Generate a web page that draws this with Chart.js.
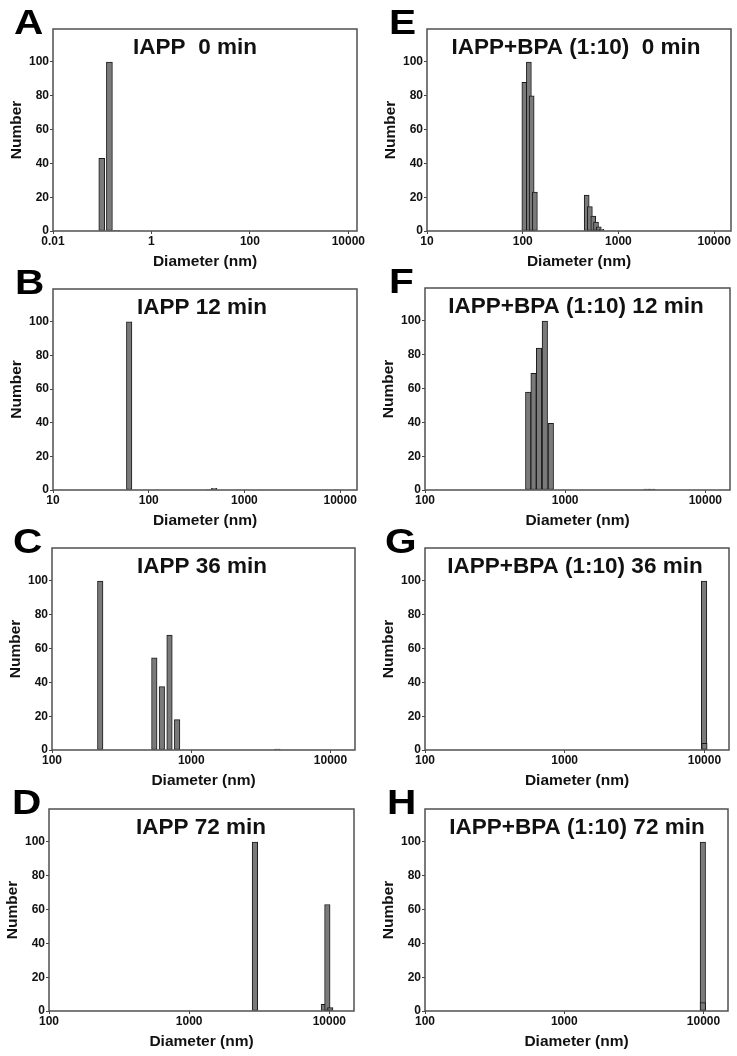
<!DOCTYPE html>
<html>
<head>
<meta charset="utf-8">
<script src="https://cdn.jsdelivr.net/npm/chart.js@4.4.1/dist/chart.umd.min.js"></script>
<style>
  html, body { margin: 0; padding: 0; background: #fff; }
  #page { position: relative; width: 737px; height: 1056px; overflow: hidden; }
  #page canvas { position: absolute; }
  .letter { position: absolute; font: bold 35px "Liberation Sans", Arial, sans-serif; line-height: 35px; color: #000; transform: scaleX(1.16); transform-origin: left top; }
</style>
</head>
<body>
<div id="page"></div>
<script>
// DLS size distributions, number (%) vs diameter (nm)
const titles = [
    'IAPP  0 min', 'IAPP 12 min', 'IAPP 36 min', 'IAPP 72 min',
    'IAPP+BPA (1:10)  0 min', 'IAPP+BPA (1:10) 12 min', 'IAPP+BPA (1:10) 36 min', 'IAPP+BPA (1:10) 72 min'
];

const diamA = [0.098, 0.14, 0.196];
const numA = [43, 100, 0.4];
const diamB = [62.5, 430, 483];
const numB = [100, 0.3, 1];
const diamC = [222, 543, 615, 698, 792, 4160];
const numC = [100, 54.5, 37.5, 68, 18, 0.6];
const diamD = [2945, 9140, 9680, 10150];
const numD = [100, 4, 63, 2];
const diamE = [104, 116, 124, 134, 466, 503, 546, 583, 623, 665];
const numE = [88, 100, 80, 23, 21.3, 14.4, 8.9, 5.3, 2.5, 1];
const diamF = [545, 595, 651, 716, 790, 3810, 4160];
const numF = [58, 69, 84, 100, 39.5, 0.5, 0.5];
const diamG = [9950, 10000];
const numG = [100, 4];
const diamH = [9890, 9900];
const numH = [100, 5];

const xTicksWide = [0.01, 1, 100, 10000];
const xTicksMid = [10, 100, 1000, 10000];
const xTicksNarrow = [100, 1000, 10000];
const yTicks = [0, 20, 40, 60, 80, 100];

const X_MAX = 15000;
const Y_MAX = 119.5;

// layout (page pixels): plot box [left, top, right, bottom], title centre x, letter position
const Y_AXIS_W = 47;
const X_AXIS_H = 42;
const PAD_TOP = 4;
const PAD_RIGHT = 12;
const TITLE_DY = 25;

const panels = [
    { letter: 'A', title: titles[0], xs: diamA, ys: numA, xTicks: xTicksWide, xMin: 0.01, box: [53, 29, 357, 231], titleX: 195, barW: 6, lx: 14, ly: 4 },
    { letter: 'B', title: titles[1], xs: diamB, ys: numB, xTicks: xTicksMid, xMin: 10, box: [53, 289, 357, 490], titleX: 202, barW: 5.5, lx: 15, ly: 264 },
    { letter: 'C', title: titles[2], xs: diamC, ys: numC, xTicks: xTicksNarrow, xMin: 100, box: [52, 548, 355, 750], titleX: 202, barW: 5.5, lx: 13, ly: 523 },
    { letter: 'D', title: titles[3], xs: diamD, ys: numD, xTicks: xTicksNarrow, xMin: 100, box: [49, 809, 354, 1011], titleX: 201, barW: 5.5, lx: 12, ly: 784 },
    { letter: 'E', title: titles[4], xs: diamE, ys: numE, xTicks: xTicksMid, xMin: 10, box: [427, 29, 731, 231], titleX: 576, barW: 5, lx: 389, ly: 4 },
    { letter: 'F', title: titles[5], xs: diamF, ys: numF, xTicks: xTicksNarrow, xMin: 100, box: [425, 288, 730, 490], titleX: 576, barW: 5.5, lx: 389, ly: 263 },
    { letter: 'G', title: titles[6], xs: diamG, ys: numG, xTicks: xTicksNarrow, xMin: 100, box: [425, 548, 729, 750], titleX: 575, barW: 5.5, lx: 385, ly: 523 },
    { letter: 'H', title: titles[7], xs: diamH, ys: numH, xTicks: xTicksNarrow, xMin: 100, box: [425, 809, 728, 1011], titleX: 577, barW: 5.5, lx: 387, ly: 784 }
];

Chart.defaults.font.family = '"Liberation Sans", Arial, sans-serif';
Chart.defaults.color = '#111';

const page = document.getElementById('page');

// Frame around plot area plus the in-plot title
function framePlugin(p) {
    return {
        id: 'frame' + p.letter,
        afterDatasetsDraw(chart) {
            const ctx = chart.ctx;
            const a = chart.chartArea;
            ctx.save();
            ctx.strokeStyle = '#505050';
            ctx.lineWidth = 1.5;
            ctx.strokeRect(a.left, a.top, a.right - a.left, a.bottom - a.top);
            ctx.fillStyle = '#111';
            ctx.font = 'bold 22.5px "Liberation Sans", Arial, sans-serif';
            ctx.textAlign = 'center';
            ctx.textBaseline = 'alphabetic';
            ctx.fillText(p.title, p.titleX - (p.box[0] - Y_AXIS_W), PAD_TOP + TITLE_DY);
            ctx.restore();
        }
    };
}

function makePanel(p) {
    const [l, t, r, b] = p.box;
    const cw = Y_AXIS_W + (r - l) + PAD_RIGHT;
    const ch = PAD_TOP + (b - t) + X_AXIS_H;
    const canvas = document.createElement('canvas');
    canvas.width = cw;
    canvas.height = ch;
    canvas.style.width = cw + 'px';
    canvas.style.height = ch + 'px';
    canvas.style.left = (l - Y_AXIS_W) + 'px';
    canvas.style.top = (t - PAD_TOP) + 'px';
    page.appendChild(canvas);

    const letter = document.createElement('div');
    letter.className = 'letter';
    letter.textContent = p.letter;
    letter.style.left = p.lx + 'px';
    letter.style.top = p.ly + 'px';
    page.appendChild(letter);

    new Chart(canvas, {
        type: 'bar',
        data: {
            datasets: [{
                data: p.xs.map((x, i) => ({ x: x, y: p.ys[i] })),
                backgroundColor: '#7a7a7a',
                borderColor: '#1a1a1a',
                borderWidth: 1,
                borderSkipped: false,
                barThickness: p.barW
            }]
        },
        options: {
            responsive: false,
            animation: false,
            devicePixelRatio: 1,
            layout: { padding: { left: 0, top: PAD_TOP, right: PAD_RIGHT, bottom: 0 } },
            plugins: {
                legend: { display: false },
                tooltip: { enabled: false }
            },
            scales: {
                x: {
                    type: 'logarithmic',
                    min: p.xMin,
                    max: X_MAX,
                    offset: false,
                    border: { display: false },
                    grid: { offset: false, drawOnChartArea: false, tickLength: 3, color: '#444' },
                    ticks: {
                        autoSkip: false,
                        maxRotation: 0,
                        padding: 0,
                        font: { size: 12, weight: 'bold' },
                        callback: v => String(v)
                    },
                    title: {
                        display: true,
                        text: 'Diameter (nm)',
                        font: { size: 15.5, weight: 'bold' },
                        padding: { top: 0, bottom: 2 }
                    },
                    afterBuildTicks: s => { s.ticks = p.xTicks.map(v => ({ value: v })); },
                    afterFit: s => { s.height = X_AXIS_H; s.paddingLeft = 0; s.paddingRight = 0; }
                },
                y: {
                    min: 0,
                    max: Y_MAX,
                    border: { display: false },
                    grid: { drawOnChartArea: false, tickLength: 3, color: '#444' },
                    ticks: {
                        padding: 1,
                        font: { size: 12, weight: 'bold' }
                    },
                    title: {
                        display: true,
                        text: 'Number',
                        font: { size: 15.5, weight: 'bold' },
                        padding: { top: 1, bottom: 0 }
                    },
                    afterBuildTicks: s => { s.ticks = yTicks.map(v => ({ value: v })); },
                    afterFit: s => { s.width = Y_AXIS_W; s.paddingTop = 0; s.paddingBottom = 0; }
                }
            }
        },
        plugins: [framePlugin(p)]
    });
}

panels.forEach(makePanel);
</script>
</body>
</html>
